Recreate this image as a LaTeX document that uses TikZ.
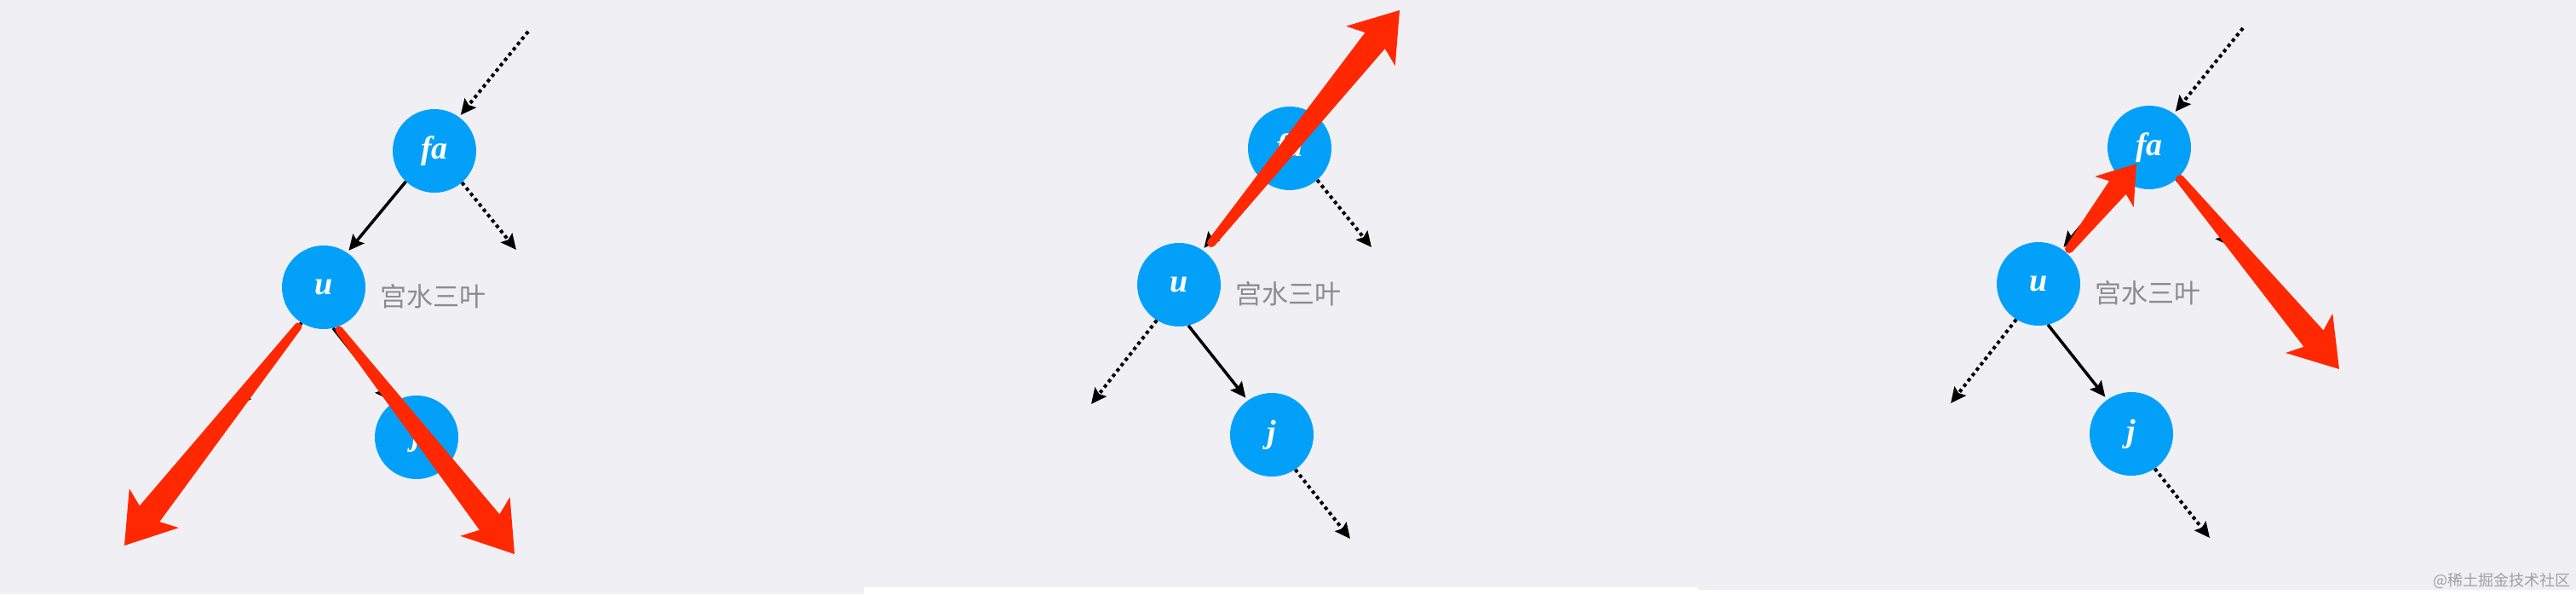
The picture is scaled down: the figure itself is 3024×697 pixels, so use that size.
\documentclass[tikz,border=0pt]{standalone}
\usepackage{fontspec}
\setmainfont{Liberation Serif}
\newfontfamily\cjk{Noto Sans CJK SC}
\usetikzlibrary{arrows.meta,calc}
\definecolor{bgc}{RGB}{240,239,244}
\definecolor{nodeblue}{RGB}{3,160,250}
\definecolor{arrred}{RGB}{255,40,0}
\definecolor{labgray}{RGB}{140,140,140}
\definecolor{wmgray}{RGB}{160,160,160}
\tikzset{
  tnode/.style={circle, fill=nodeblue, minimum size=98pt, inner sep=0pt, text=white,
    font=\fontsize{38}{42}\selectfont\bfseries\itshape},
  edgesolid/.style={line width=3.5pt, -{Stealth[length=18pt,width=17pt,inset=3pt]}, shorten >=3pt},
  edgedot/.style={line width=4pt, dash pattern=on 4pt off 4pt, -{Stealth[length=18pt,width=17pt,inset=3pt]}},
  cjklabel/.style={font=\cjk\fontsize{31}{34}\selectfont, text=labgray, anchor=west, inner sep=0pt},
  redfill/.style={fill=arrred},
}
% #1 start, #2 tip, #3 start half width, #4 shaft end half width, #5 head length, #6 head half width
\newcommand{\redarrow}[6]{%
  \coordinate (#1-nc) at ($(#2)!{0.85*#5pt}!(#1)$);
  \coordinate (#1-hc) at ($(#2)!{#5pt}!(#1)$);
  \fill[redfill] ($(#1)!#3pt!90:(#2)$) -- ($(#1-nc)!#4pt!90:(#2)$) -- ($(#1-hc)!#6pt!90:(#2)$)
    -- (#2) -- ($(#1-hc)!#6pt!-90:(#2)$) -- ($(#1-nc)!#4pt!-90:(#2)$) -- ($(#1)!#3pt!-90:(#2)$) -- cycle;
  \fill[redfill] (#1) circle[radius=#3pt];
}
% #1 id, #2 x offset, #3 y offset
\newcommand{\treepanel}[3]{%
  \begin{scope}[shift={(#2,#3)}]
    \node[tnode] (fa#1) at (510,173) {fa};
    \node[tnode] (u#1) at (380,333) {u};
    \node[tnode] (j#1) at (489,509) {j};
    \node[cjklabel] (lab#1) at (446,344) {宫水三叶};
    \coordinate (in#1) at (620,33);
    \coordinate (fo#1) at (606,289);
    \coordinate (uo#1) at (277,473);
    \coordinate (jo#1) at (581,631);
    \draw[edgedot, shorten >=3pt] (in#1) -- (fa#1.54);
    \draw[edgesolid] (fa#1.227) -- (u#1.56);
    \draw[edgedot] (fa#1.311) -- (fo#1);
    \draw[edgedot] (u#1.238) -- (uo#1);
    \draw[edgesolid, shorten >=4pt] (u#1.283) -- (j#1.125);
    \draw[edgedot] (j#1.304) -- (jo#1);
  \end{scope}
}
\begin{document}
\begin{tikzpicture}[x=1pt,y=-1pt]
  \useasboundingbox (0,0) rectangle (3024,697);
  \fill[bgc] (0,0) rectangle (3024,697);
  \fill[white] (1014,689) rectangle (1993,697);
  \fill[white] (1993,692) rectangle (3024,697);

  \treepanel{1}{0}{4}
  \treepanel{2}{1004}{1}
  \treepanel{3}{2013}{0}

  % red annotation arrows
  \coordinate (ra) at (350,383);  \coordinate (rat) at (146,640);
  \coordinate (rb) at (398,387);  \coordinate (rbt) at (604,650);
  \coordinate (rc) at (1422,285); \coordinate (rct) at (1643,12);
  \coordinate (rd) at (2429,292); \coordinate (rdt) at (2508,192);
  \coordinate (re) at (2559,210); \coordinate (ret) at (2746,433);
  \redarrow{ra}{rat}{4.5}{15}{56}{37}
  \redarrow{rb}{rbt}{4.5}{15}{56}{37}
  \redarrow{rc}{rct}{5}{15}{54}{37}
  \redarrow{rd}{rdt}{5}{12.5}{42}{29}
  \redarrow{re}{ret}{5}{15}{55}{36}

  \node[anchor=east, font=\cjk\fontsize{18}{20}\selectfont, text=wmgray, inner sep=0pt] (wm) at (3018,681) {@稀土掘金技术社区};
\end{tikzpicture}
\end{document}
